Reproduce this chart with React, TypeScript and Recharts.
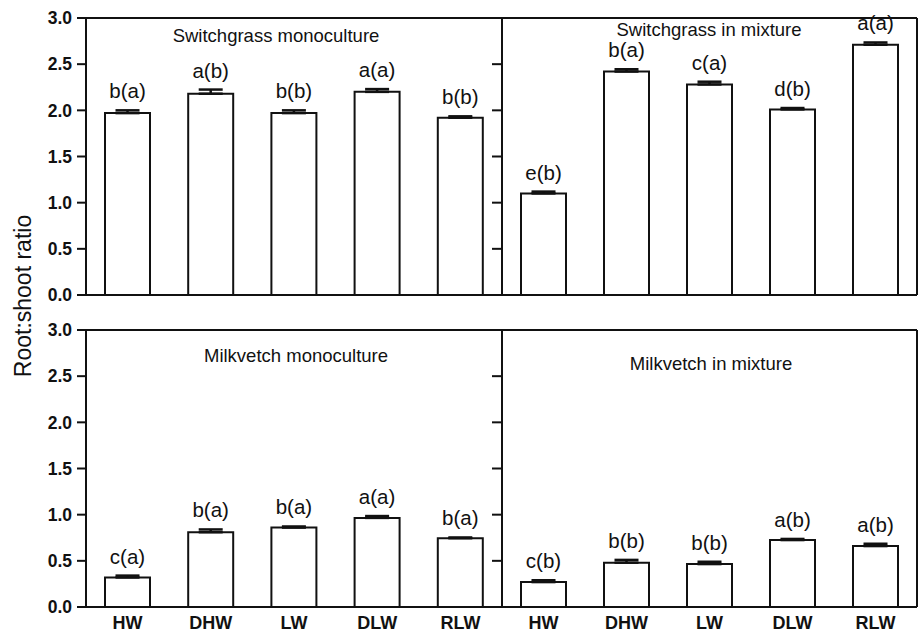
import React from 'react';
import { BarChart, Bar, XAxis, YAxis, ErrorBar, LabelList } from 'recharts';

const categories = ['HW', 'DHW', 'LW', 'DLW', 'RLW'];
const yTicks = [0, 0.5, 1.0, 1.5, 2.0, 2.5, 3.0];

const sgMono = [1.97, 2.18, 1.97, 2.2, 1.92];
const sgMonoErr = [0.03, 0.045, 0.03, 0.03, 0.015];
const sgMonoLab = ['b(a)', 'a(b)', 'b(b)', 'a(a)', 'b(b)'];

const sgMix = [1.1, 2.42, 2.28, 2.01, 2.71];
const sgMixErr = [0.02, 0.025, 0.03, 0.015, 0.025];
const sgMixLab = ['e(b)', 'b(a)', 'c(a)', 'd(b)', 'a(a)'];

const mvMono = [0.32, 0.81, 0.86, 0.965, 0.745];
const mvMonoErr = [0.02, 0.03, 0.012, 0.02, 0.008];
const mvMonoLab = ['c(a)', 'b(a)', 'b(a)', 'a(a)', 'b(a)'];

const mvMix = [0.27, 0.48, 0.465, 0.725, 0.66];
const mvMixErr = [0.02, 0.03, 0.025, 0.012, 0.025];
const mvMixLab = ['c(b)', 'b(b)', 'b(b)', 'a(b)', 'a(b)'];

const FONT = '"Liberation Sans", Arial, Helvetica, sans-serif';

type PanelProps = {
  left: number;
  top: number;
  width: number;
  height: number;
  yWidth: number;
  values: number[];
  errs: number[];
  labels: string[];
  showYLabels: boolean;
  showX: boolean;
  xHeight: number;
};

const makeLabel = (values: number[], errs: number[]) => (props: any) => {
  const vb = props.viewBox || props;
  const x = vb.x ?? props.x;
  const y = vb.y ?? props.y;
  const w = vb.width ?? props.width;
  const hRaw = vb.height ?? props.height;
  let idx = props.index;
  if (idx === undefined || idx === null) {
    idx = categories.indexOf(props?.payload?.cat);
  }
  if (idx < 0 || idx === undefined) idx = 0;
  const h = Math.abs(hRaw);
  const ppu = h / values[idx];
  const errPx = errs[idx] * ppu;
  const topY = Math.min(y, y + hRaw);
  return (
    <text
      x={x + w / 2}
      y={topY - errPx - 12}
      textAnchor="middle"
      fontSize={20.5}
      fontFamily={FONT}
      fill="#111"
    >
      {props.value}
    </text>
  );
};

function Panel(p: PanelProps) {
  const data = categories.map((c, i) => ({
    cat: c,
    v: p.values[i],
    e: [0, p.errs[i]],
    lab: p.labels[i],
  }));
  return (
    <div style={{ position: 'absolute', left: p.left, top: p.top }}>
      <BarChart
        width={p.width}
        height={p.height}
        data={data}
        margin={{ top: 17, right: 0, left: 0, bottom: p.showX ? 0 : 11 }}
        barSize={45}
        style={{ overflow: 'visible' }}
      >
        <XAxis
          dataKey="cat"
          height={p.xHeight}
          axisLine={{ stroke: '#111', strokeWidth: 2 }}
          tickLine={false}
          tickSize={0}
          tickMargin={9}
          tick={p.showX ? { fill: '#111', fontSize: 18, fontWeight: 'bold', fontFamily: FONT } : false}
          interval={0}
        />
        <XAxis
          xAxisId="top"
          orientation="top"
          dataKey="cat"
          height={1}
          axisLine={{ stroke: '#111', strokeWidth: 2 }}
          tickLine={false}
          tickFormatter={() => ''}
        />
        <YAxis
          width={p.yWidth}
          domain={[0, 3]}
          ticks={yTicks}
          interval={0}
          axisLine={{ stroke: '#111', strokeWidth: 2 }}
          tickLine={{ stroke: '#111', strokeWidth: 2 }}
          tickSize={p.showYLabels ? 9 : 10}
          tickMargin={5}
          tickFormatter={(v: number) => (p.showYLabels ? v.toFixed(1) : '')}
          tick={{ fill: '#111', fontSize: 17.5, fontWeight: 'bold', fontFamily: FONT }}
        />
        <YAxis
          yAxisId="right"
          orientation="right"
          width={1}
          domain={[0, 3]}
          axisLine={{ stroke: '#111', strokeWidth: 2 }}
          tickLine={false}
          tickFormatter={() => ''}
        />
        <Bar
          dataKey="v"
          fill="#ffffff"
          stroke="#111"
          strokeWidth={2}
          isAnimationActive={false}
        >
          <ErrorBar dataKey="e" width={12} stroke="#111" strokeWidth={2.5} direction="y" />
          <LabelList dataKey="lab" content={makeLabel(p.values, p.errs)} />
        </Bar>
      </BarChart>
    </div>
  );
}

const titleStyle = (x: number, y: number): React.CSSProperties => ({
  position: 'absolute',
  left: x,
  top: y,
  transform: 'translate(-50%, -50%)',
  fontSize: 18.5,
  lineHeight: 1,
  fontFamily: FONT,
  color: '#111',
  whiteSpace: 'nowrap',
});

export default function App() {
  return (
    <div
      style={{
        position: 'absolute',
        left: 0,
        top: 0,
        width: 918,
        height: 632,
        background: '#fff',
        fontFamily: FONT,
        overflow: 'hidden',
      }}
    >
      <Panel left={0} top={0} width={503} height={310} yWidth={86} values={sgMono} errs={sgMonoErr} labels={sgMonoLab} showYLabels={true} showX={false} xHeight={4} />
      <Panel left={452} top={0} width={466} height={310} yWidth={50} values={sgMix} errs={sgMixErr} labels={sgMixLab} showYLabels={false} showX={false} xHeight={4} />
      <Panel left={0} top={312} width={503} height={320} yWidth={86} values={mvMono} errs={mvMonoErr} labels={mvMonoLab} showYLabels={true} showX={true} xHeight={25} />
      <Panel left={452} top={312} width={466} height={320} yWidth={50} values={mvMix} errs={mvMixErr} labels={mvMixLab} showYLabels={false} showX={true} xHeight={25} />

      <div style={titleStyle(276, 36)}>Switchgrass monoculture</div>
      <div style={titleStyle(709, 30)}>Switchgrass in mixture</div>
      <div style={titleStyle(296, 356)}>Milkvetch monoculture</div>
      <div style={titleStyle(711, 364)}>Milkvetch in mixture</div>

      <div
        style={{
          position: 'absolute',
          left: 23,
          top: 296,
          transform: 'translate(-50%, -50%) rotate(-90deg)',
          fontSize: 23,
          lineHeight: 1,
          fontFamily: FONT,
          color: '#111',
          whiteSpace: 'nowrap',
        }}
      >
        Root:shoot ratio
      </div>
    </div>
  );
}
